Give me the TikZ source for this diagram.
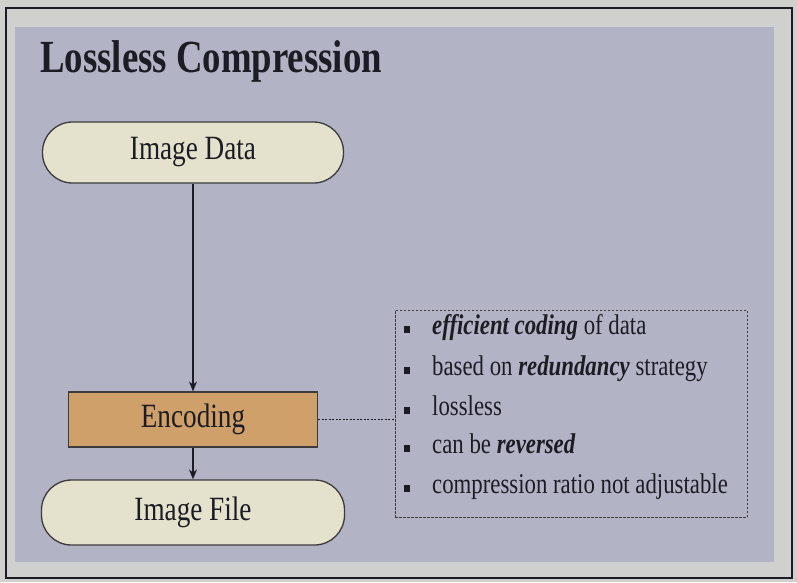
\documentclass[tikz,border=0pt]{standalone}
\usepackage{fontspec}
\setmainfont{Liberation Serif}[FakeStretch=0.8]
\usetikzlibrary{arrows.meta}
\definecolor{pagebg}{RGB}{208,209,206}
\definecolor{slidebg}{RGB}{178,180,198}
\definecolor{ink}{RGB}{28,28,36}
\definecolor{creamfill}{RGB}{228,226,204}
\definecolor{tanfill}{RGB}{208,160,106}
\definecolor{edge}{RGB}{60,58,60}
\tikzset{
  pill/.style={draw=edge, line width=1.3pt, fill=creamfill, rounded corners=30pt,
    text=ink, font=\fontsize{34}{36}\selectfont, inner sep=0pt},
  stagebox/.style={draw=edge, line width=1.2pt, fill=tanfill, text=ink,
    font=\fontsize{34}{36}\selectfont, inner sep=0pt},
  flow/.style={draw=ink, line width=1.3pt, -{Stealth[length=10pt,width=8pt]}},
  notebox/.style={draw=edge, line width=0.8pt, dash pattern=on 2.5pt off 1.5pt, inner sep=0pt},
  noteline/.style={anchor=base west, text=ink, font=\fontsize{28.5}{30}\selectfont, inner sep=0pt},
  bulletmark/.style={fill=ink, minimum width=6pt, minimum height=7pt, inner sep=0pt}
}
\begin{document}
\begin{tikzpicture}[x=1pt,y=-1pt]
\useasboundingbox (0,0) rectangle (797,582);
% page and slide background
\fill[pagebg] (0,0) rectangle (797,582);
\draw[ink, line width=1.6pt] (6,8) rectangle (792,578);
\fill[slidebg] (15,27) rectangle (774,562);

% title
\node[anchor=base west, text=ink, inner sep=0pt, font=\fontsize{46}{48}\selectfont\bfseries]
  (title) at (40,72) {Lossless Compression};

% flow of stages
\node[pill, minimum width=301pt, minimum height=61pt] (data) at (193,152.5) {Image Data};
\node[stagebox, minimum width=249pt, minimum height=55pt] (enc) at (193,419.5) {Encoding};
\node[pill, minimum width=303pt, minimum height=65pt] (file) at (193,512.5) {Image File};

\draw[flow] (data) -- (enc);
\draw[flow] (enc) -- (file);

% properties box
\node[notebox, minimum width=352pt, minimum height=207pt] (notes) at (571,413.5) {};
\draw[ink, line width=0.9pt, dash pattern=on 2pt off 1.5pt] (enc.east) -- (enc.east -| notes.west);

\node[bulletmark] (b1) at (407,329) {};
\node[bulletmark] (b2) at (407,370) {};
\node[bulletmark] (b3) at (407,410) {};
\node[bulletmark] (b4) at (407,448) {};
\node[bulletmark] (b5) at (407,488) {};

\node[noteline] (t1) at (432,334) {\textbf{\textit{efficient coding}} of data};
\node[noteline] (t2) at (432,375) {based on \textbf{\textit{redundancy}} strategy};
\node[noteline] (t3) at (432,415) {lossless};
\node[noteline] (t4) at (432,453) {can be \textbf{\textit{reversed}}};
\node[noteline] (t5) at (432,493) {compression ratio not adjustable};
\end{tikzpicture}
\end{document}
